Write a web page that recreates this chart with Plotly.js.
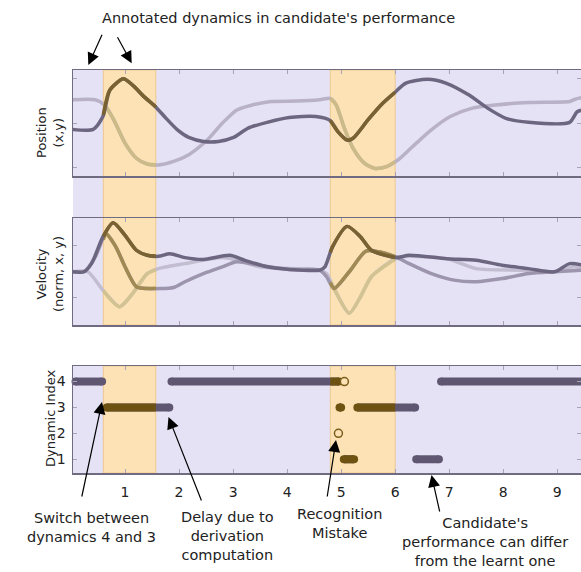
<!DOCTYPE html>
<html><head><meta charset="utf-8">
<script src="https://cdn.plot.ly/plotly-3.0.1.min.js"></script>
<style>html,body{margin:0;padding:0;background:#fff}</style>
</head><body><div id="chart" style="width:581px;height:572px"></div>
<script>
// ---- data ----
const bandStart = [0.598, 4.80];
const bandEnd   = [1.57, 6.0];

const posDarkT = [0.03,0.41,0.59,0.72,0.97,1.14,1.35,1.55,1.76,1.97,2.18,2.45,2.73,3.01,3.28,3.63,4.04,4.53,4.80,4.94,5.11,5.22,5.50,5.77,6.01,6.19,6.60,6.95,7.36,7.71,8.05,8.47,9.23,9.37,9.49];
const posDarkY = [-0.14,-0.14,0.15,0.75,1.0,0.86,0.60,0.39,0.11,-0.15,-0.32,-0.41,-0.41,-0.32,-0.11,0.02,0.13,0.15,0.06,-0.19,-0.38,-0.34,0.08,0.45,0.71,0.90,0.99,0.90,0.64,0.34,0.11,0.02,0.02,0.26,0.30];
const posLightT = [0.03,0.45,0.62,0.79,1.0,1.21,1.41,1.62,1.90,2.18,2.52,2.80,3.07,3.35,3.70,4.18,4.60,4.80,4.91,5.05,5.22,5.43,5.63,5.84,6.05,6.32,6.67,7.02,7.43,7.85,8.47,9.23,9.33,9.49];
const posLightY = [0.53,0.53,0.41,0.08,-0.45,-0.79,-0.92,-0.94,-0.86,-0.71,-0.38,0.0,0.30,0.41,0.49,0.50,0.53,0.56,0.41,-0.08,-0.56,-0.90,-1.02,-0.98,-0.83,-0.53,-0.15,0.15,0.34,0.41,0.47,0.49,0.54,0.59];

const velNormT = [0.03,0.24,0.38,0.59,0.78,1.0,1.21,1.41,1.62,1.83,2.11,2.45,2.94,3.21,3.63,4.04,4.60,4.70,4.84,5.11,5.36,5.56,6.01,6.26,6.95,7.50,7.98,8.47,8.95,9.23,9.49];
const velNormY = [-0.01,-0.01,0.30,1.32,1.86,1.38,0.81,0.62,0.58,0.68,0.53,0.46,0.62,0.43,0.18,0.08,0.05,0.18,0.94,1.72,1.32,0.81,0.53,0.62,0.49,0.43,0.24,0.11,-0.01,0.30,0.24];
const velXT = [0.03,0.24,0.45,0.65,0.83,1.0,1.21,1.41,1.90,2.11,2.45,2.80,3.07,3.49,4.04,4.60,4.73,4.87,5.15,5.46,5.70,6.01,6.26,6.67,7.09,7.50,7.98,8.47,8.95,9.49];
const velXY = [-0.01,-0.01,0.56,1.44,0.94,0.18,-0.58,-0.65,-0.61,-0.39,-0.08,0.18,0.37,0.24,0.08,0.05,-0.20,-0.65,-0.01,0.78,0.75,0.56,0.30,-0.08,-0.33,-0.39,-0.27,-0.08,-0.01,0.05];
const velYT = [0.03,0.31,0.59,0.90,1.14,1.41,1.62,2.11,2.80,3.07,3.49,4.60,4.73,4.87,5.15,5.36,5.56,6.01,6.26,6.95,7.50,8.33,8.95,9.30,9.49];
const velYY = [-0.01,-0.01,-0.71,-1.34,-0.84,-0.08,0.11,0.30,0.53,0.43,0.18,0.05,-0.08,-0.65,-1.59,-0.96,-0.20,0.49,0.58,0.49,0.11,0.05,-0.01,0.18,0.11];

// recognised dynamic index: segments (level, start, end)
const segLevel = [4, 3, 4, 3, 1, 3, 1, 4];
const segStart = [0.083, 0.66, 1.86, 4.97, 5.05, 5.30, 6.39, 6.85];
const segEnd   = [0.576, 1.82, 4.96, 5.00, 5.24, 6.37, 6.81, 9.60];
const mistakeT = [4.95, 5.06];
const mistakeLevel = [2, 4];

const xTicks = [1,2,3,4,5,6,7,8,9];
const dynTicks = [1,2,3,4];

// ---- helpers ----
function clip(t, v, lo, hi) {
  const ox = [], oy = [];
  for (let i = 0; i < t.length - 1; i++) {
    const a = t[i], b = t[i+1];
    if (b < lo || a > hi) continue;
    const s0 = Math.max(a, lo), s1 = Math.min(b, hi);
    const f = x => v[i] + (v[i+1] - v[i]) * (x - a) / (b - a);
    if (!ox.length) { ox.push(s0); oy.push(f(s0)); }
    ox.push(s1); oy.push(f(s1));
  }
  return {x: ox, y: oy};
}
function inBand(x) { for (let k = 0; k < bandStart.length; k++) if (x >= bandStart[k] && x <= bandEnd[k]) return true; return false; }

const traces = [];
function addLine(t, v, col, bandCol, xa, ya) {
  traces.push({x: t, y: v, xaxis: xa, yaxis: ya, mode: 'lines', line: {color: col, width: 3.5, shape: 'spline', smoothing: 0.7}, hoverinfo: 'skip'});
  for (let k = 0; k < bandStart.length; k++) {
    const c = clip(t, v, bandStart[k], bandEnd[k]);
    traces.push({x: c.x, y: c.y, xaxis: xa, yaxis: ya, mode: 'lines', line: {color: bandCol, width: 3.5, shape: 'spline', smoothing: 0.7}, hoverinfo: 'skip'});
  }
}
addLine(posLightT, posLightY, '#b8b1c7', '#ccba87', 'x', 'y');
addLine(posDarkT, posDarkY, '#6d6681', '#7a6230', 'x', 'y');
addLine(velYT, velYY, '#c3bdd1', '#d3c390', 'x2', 'y2');
addLine(velXT, velXY, '#9c95ad', '#a08a52', 'x2', 'y2');
addLine(velNormT, velNormY, '#6d6681', '#7a6230', 'x2', 'y2');

// dynamic index strips
const PURPLE = '#5f5671', BROWN = '#6e5212';
const sx = [], sy = [];
segLevel.forEach((l, i) => { sx.push(segStart[i], segEnd[i], null); sy.push(l, l, null); });
traces.push({x: sx, y: sy, xaxis: 'x3', yaxis: 'y3', mode: 'lines', line: {color: PURPLE, width: 8}, hoverinfo: 'skip', connectgaps: false});
const bx = [], by = [];
segLevel.forEach((l, i) => {
  for (let k = 0; k < bandStart.length; k++) {
    const c = clip([segStart[i], segEnd[i]], [l, l], bandStart[k], bandEnd[k]);
    if (c.x.length) { bx.push(...c.x, null); by.push(...c.y, null); }
  }
});
traces.push({x: bx, y: by, xaxis: 'x3', yaxis: 'y3', mode: 'lines', line: {color: BROWN, width: 8}, hoverinfo: 'skip', connectgaps: false});
const ex = [], ey = [], ec = [];
segLevel.forEach((l, i) => { [segStart[i], segEnd[i]].forEach(x => { ex.push(x); ey.push(l); ec.push(inBand(x) ? BROWN : PURPLE); }); });
traces.push({x: ex, y: ey, xaxis: 'x3', yaxis: 'y3', mode: 'markers', marker: {color: ec, size: 8, line: {width: 0}}, cliponaxis: false, hoverinfo: 'skip'});
traces.push({x: mistakeT, y: mistakeLevel, xaxis: 'x3', yaxis: 'y3', mode: 'markers', marker: {color: '#fde2b5', size: 8, line: {color: '#7a5c1a', width: 1.5}}, cliponaxis: false, hoverinfo: 'skip'});

// ---- layout ----
const L = 73, T = 70, PW = 508, PB = 473, PH = 403;
const px = p => (p - L) / PW, py = p => (PB - p) / PH;
const XR = [0.037, 9.44];
const AX = '#716b82', TK = '#a9a3b8';
const FONT = 'DejaVu Sans, Verdana, sans-serif';
const xCommon = {range: XR, tickvals: xTicks, ticks: 'inside', ticklen: 4, tickcolor: TK, showgrid: false, zeroline: false, showline: true, linecolor: AX, linewidth: 1.5, mirror: 'ticks', fixedrange: true};
const yCommon = {ticks: 'inside', ticklen: 4, tickcolor: TK, showgrid: false, zeroline: false, showline: true, linecolor: AX, linewidth: 1.5, mirror: 'ticks', fixedrange: true};

const shapes = [
  {type: 'rect', xref: 'paper', yref: 'paper', x0: 0, x1: 1, y0: py(325), y1: py(70), fillcolor: '#e5e2f5', line: {width: 0}, layer: 'below'},
  {type: 'rect', xref: 'paper', yref: 'paper', x0: 0, x1: 1, y0: py(473), y1: py(366), fillcolor: '#e5e2f5', line: {width: 0}, layer: 'below'}
];
for (let k = 0; k < bandStart.length; k++) {
  [[py(325), py(70)], [py(473), py(366)]].forEach(r => {
    shapes.push({type: 'rect', xref: 'x', yref: 'paper', x0: bandStart[k], x1: bandEnd[k], y0: r[0], y1: r[1], fillcolor: '#fde2b5', line: {color: '#eec88f', width: 1}, layer: 'below'});
  });
}

const ann = [];
function arrow(tx, ty, hx, hy) {
  ann.push({xref: 'paper', yref: 'paper', x: px(hx), y: py(hy), ax: tx - hx, ay: ty - hy, text: '', showarrow: true, arrowhead: 2, arrowsize: 2, arrowwidth: 1.2, arrowcolor: '#000', standoff: 0});
}
function label(text, cx, cy, size, angle) {
  ann.push({xref: 'paper', yref: 'paper', x: px(cx), y: py(cy), text: text, showarrow: false, xanchor: 'center', yanchor: 'middle', textangle: angle || 0, font: {family: FONT, size: size, color: '#222'}});
}
label("Annotated dynamics in candidate's performance", 278, 18, 14.5);
arrow(102.7, 33.3, 88.3, 65);
arrow(116.7, 35.7, 131.7, 63.3);
label('Switch between<br>dynamics 4 and 3', 91, 527, 14.5);
arrow(81.5, 498, 102, 402);
label('Delay due to<br>derivation<br>computation', 227, 536, 14.5);
arrow(202, 502, 168.5, 417);
label('Recognition<br>Mistake', 339, 523, 14.5);
arrow(327, 498, 336, 440);
label("Candidate's<br>performance can differ<br>from the learnt one", 485, 542, 14.5);
arrow(440, 513, 431.5, 475);
label('Position<br>(x,y)', 50, 133, 13, -90);
label('Velocity<br>(norm, x, y)', 50, 274, 13, -90);
label('Dynamic Index', 50, 418, 13, -90);

const layout = {
  width: 581, height: 572,
  margin: {l: L, r: 581 - L - PW, t: T, b: 572 - PB},
  paper_bgcolor: '#fff', plot_bgcolor: 'rgba(0,0,0,0)',
  showlegend: false,
  font: {family: FONT, size: 14, color: '#222'},
  xaxis: Object.assign({}, xCommon, {anchor: 'y', showticklabels: false}),
  xaxis2: Object.assign({}, xCommon, {anchor: 'y2', showticklabels: false}),
  xaxis3: Object.assign({}, xCommon, {anchor: 'y3', showticklabels: true, ticklabelstandoff: 6, tickfont: {family: FONT, size: 14, color: '#222'}}),
  yaxis: Object.assign({}, yCommon, {domain: [py(176), 1], range: [-1.19, 1.2], tickvals: [-1, 0, 1], showticklabels: false}),
  yaxis2: Object.assign({}, yCommon, {domain: [py(325), py(218)], range: [-2.04, 2.04], tickvals: [-1, 1], showticklabels: false}),
  yaxis3: Object.assign({}, yCommon, {domain: [0, py(366)], range: [0.47, 4.6], tickvals: dynTicks, showticklabels: true, ticklabelstandoff: 3, tickfont: {family: FONT, size: 14, color: '#222'}}),
  shapes: shapes,
  annotations: ann
};
Plotly.newPlot('chart', traces, layout, {displayModeBar: false, staticPlot: true});
</script></body></html>
